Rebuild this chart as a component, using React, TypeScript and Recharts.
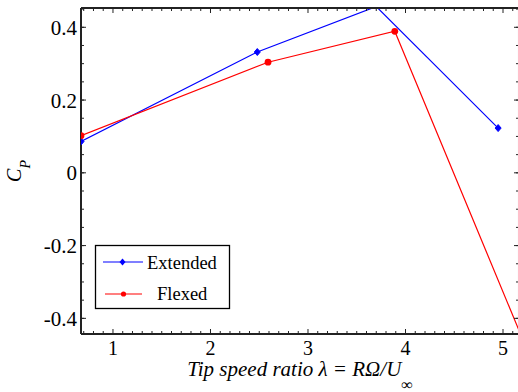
import { LineChart, Line, XAxis, YAxis, Label } from 'recharts';

// tip speed ratio (x) and power coefficient (y) per configuration
const tsrExtended = [0.672, 2.48, 3.7, 4.95];
const cpExtended = [0.086, 0.332, 0.457, 0.123];
const tsrFlexed = [0.672, 2.59, 3.89, 5.5];
const cpFlexed = [0.102, 0.304, 0.389, -0.65];

const xTicks = [1, 2, 3, 4, 5];
const yTicks = [-0.4, -0.2, 0, 0.2, 0.4];

const X_MIN = 0.672;
const X_MAX = 5.164;
const Y_MIN = -0.443;
const Y_MAX = 0.453;

const xMinorTicks = Array.from({ length: 45 }, (_, i) => Math.round((0.7 + i * 0.1) * 10) / 10);
const yMinorTicks = Array.from({ length: 18 }, (_, i) => Math.round((-0.4 + i * 0.05) * 100) / 100);

const FONT = "'Liberation Serif', 'DejaVu Serif', 'Times New Roman', Times, serif";
const AXIS = '#222';
const BLUE = '#0000ff';
const RED = '#ff0000';
const THIN = 0.01; // mirror axes must have a non-zero size to be drawn
const PLOT_TOP = 8;
const X_TICK_GAP = 7;

const extendedData = tsrExtended.map((tsr, i) => ({ tsr, cp: cpExtended[i] }));
const flexedData = tsrFlexed.map((tsr, i) => ({ tsr, cp: cpFlexed[i] }));

const inView = (p: any) => p && p.cp <= Y_MAX && p.cp >= Y_MIN && p.tsr <= X_MAX;

function DiamondDot(props: any) {
  const { cx, cy, payload, index } = props;
  if (!inView(payload)) return <g key={`dd-${index}`} />;
  return (
    <path
      key={`dd-${index}`}
      d={`M${cx},${cy - 3.5}L${cx + 3},${cy}L${cx},${cy + 3.5}L${cx - 3},${cy}Z`}
      fill={BLUE}
      stroke={BLUE}
    />
  );
}

function CircleDot(props: any) {
  const { cx, cy, payload, index } = props;
  if (!inView(payload)) return <g key={`cd-${index}`} />;
  return <circle key={`cd-${index}`} cx={cx} cy={cy} r={3.4} fill={RED} />;
}

// bottom axis tick: inward marks on bottom and top edges, label on majors only
function XTick(props: any) {
  const { x, y, payload } = props;
  const major = xTicks.includes(payload.value);
  const len = major ? 5 : 3;
  const axisY = y - X_TICK_GAP;
  return (
    <g>
      <line x1={x} x2={x} y1={axisY} y2={axisY - len} stroke={AXIS} />
      <line x1={x} x2={x} y1={PLOT_TOP} y2={PLOT_TOP + len} stroke={AXIS} />
      {major && (
        <text x={x} y={y} dy="0.71em" textAnchor="middle" fontSize={20} fill="#000" style={{ fontFamily: FONT }}>
          {payload.value}
        </text>
      )}
    </g>
  );
}

function XTitle(props: any) {
  const { x, y, width } = props.viewBox;
  return (
    <text x={x + width / 2} y={y + 41.5} textAnchor="middle" style={{ fontFamily: FONT }} fontStyle="italic" fontSize={21} fill="#000">
      Tip speed ratio λ = RΩ/U
      <tspan fontSize={16} dy={14}>∞</tspan>
    </text>
  );
}

function YTitle(props: any) {
  const { y, height } = props.viewBox;
  const cy = y + height / 2;
  return (
    <text x={21} y={cy} transform={`rotate(-90, 21, ${cy})`} textAnchor="middle" style={{ fontFamily: FONT }} fontStyle="italic" fontSize={20} fill="#000">
      C
      <tspan fontSize={14} dy={9}>P</tspan>
    </text>
  );
}

const tickFont = { fontSize: 21, fill: '#000', style: { fontFamily: FONT } };
const noLabel = () => '';

const minorY = { type: 'number' as const, domain: [Y_MIN, Y_MAX], allowDataOverflow: true, interval: 0, tickFormatter: noLabel, tickMargin: 0, mirror: true, width: THIN, tickLine: { stroke: AXIS } };

export default function App() {
  return (
    <div style={{ position: 'absolute', left: 0, top: 0, width: 518, height: 392, overflow: 'hidden', background: '#fff', fontFamily: FONT }}>
      <LineChart width={520} height={392} margin={{ top: PLOT_TOP, right: 1, bottom: 0, left: 0 }}>
        <XAxis
          xAxisId="main"
          dataKey="tsr"
          type="number"
          domain={[X_MIN, X_MAX]}
          allowDataOverflow
          ticks={xMinorTicks}
          interval={0}
          height={58}
          tickLine={false}
          tickSize={0}
          tickMargin={X_TICK_GAP}
          tick={<XTick />}
          axisLine={{ stroke: AXIS, strokeWidth: 2 }}
        >
          <Label content={<XTitle />} />
        </XAxis>
        <XAxis
          xAxisId="top"
          type="number"
          orientation="top"
          mirror
          height={THIN}
          domain={[X_MIN, X_MAX]}
          allowDataOverflow
          tick={false}
          tickLine={false}
          axisLine={{ stroke: AXIS, strokeWidth: 2 }}
        />
        <YAxis
          yAxisId="main"
          type="number"
          domain={[Y_MIN, Y_MAX]}
          allowDataOverflow
          ticks={yTicks}
          interval={0}
          width={81}
          tickLine={false}
          tickSize={0}
          tickMargin={4}
          tick={tickFont}
          axisLine={{ stroke: AXIS, strokeWidth: 2 }}
        >
          <Label content={<YTitle />} />
        </YAxis>

        {/* inward tick marks on the left and right edges */}
        <YAxis yAxisId="lMinor" orientation="left" {...minorY} ticks={yMinorTicks} tickSize={3} axisLine={false} />
        <YAxis yAxisId="lMajor" orientation="left" {...minorY} ticks={yTicks} tickSize={5} axisLine={false} />
        <YAxis yAxisId="rMinor" orientation="right" {...minorY} ticks={yMinorTicks} tickSize={3} axisLine={{ stroke: AXIS, strokeWidth: 2 }} />
        <YAxis yAxisId="rMajor" orientation="right" {...minorY} ticks={yTicks} tickSize={5} axisLine={false} />

        <Line
          xAxisId="main"
          yAxisId="main"
          data={extendedData}
          dataKey="cp"
          name="Extended"
          stroke={BLUE}
          strokeWidth={1.2}
          dot={DiamondDot}
          activeDot={false}
          isAnimationActive={false}
        />
        <Line
          xAxisId="main"
          yAxisId="main"
          data={flexedData}
          dataKey="cp"
          name="Flexed"
          stroke={RED}
          strokeWidth={1.2}
          dot={CircleDot}
          activeDot={false}
          isAnimationActive={false}
        />
      </LineChart>

      {/* legend box */}
      <svg width={137} height={66} style={{ position: 'absolute', left: 94, top: 244 }}>
        <rect x={1.5} y={1.5} width={134} height={63} fill="#fff" stroke="#000" strokeWidth={1.3} />
        <line x1={9} x2={49} y1={18} y2={18} stroke={BLUE} strokeWidth={1.2} />
        <path d="M28.5,14.5L31.5,18L28.5,21.5L25.5,18Z" fill={BLUE} />
        <text x={53} y={24.5} style={{ fontFamily: FONT }} fontSize={18.5} fill="#000">Extended</text>
        <line x1={11} x2={48} y1={50} y2={50} stroke={RED} strokeWidth={1.2} />
        <circle cx={29.5} cy={50} r={2.6} fill={RED} />
        <text x={63} y={56} style={{ fontFamily: FONT }} fontSize={18.5} fill="#000">Flexed</text>
      </svg>
    </div>
  );
}
